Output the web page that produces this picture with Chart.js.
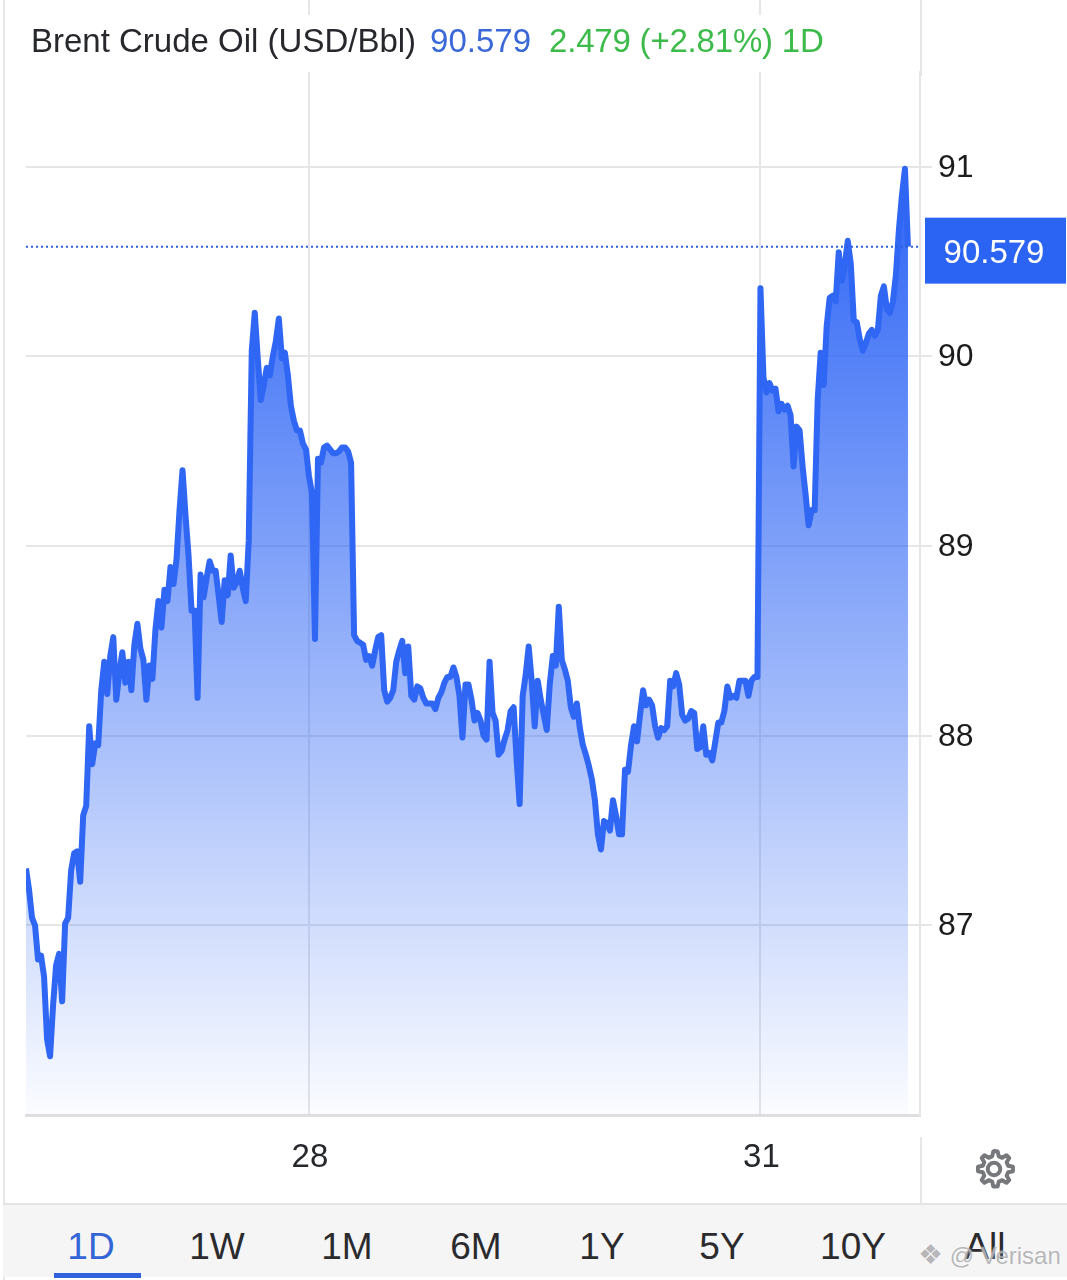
<!DOCTYPE html>
<html>
<head>
<meta charset="utf-8">
<title>Brent Crude Oil</title>
<script src="https://cdn.jsdelivr.net/npm/chart.js@4"></script>
<style>
html,body{margin:0;padding:0;background:#fff;}
body{width:1067px;height:1280px;position:relative;overflow:hidden;font-family:"Liberation Sans",Arial,sans-serif;}
#plot{position:absolute;left:0;top:0;}
.rule{position:absolute;background:#e6e6e9;}
#head{position:absolute;left:31px;top:22px;font-size:33px;line-height:38px;white-space:nowrap;color:#26282c;}
#head .last{color:#3a68d8;margin-left:14px;}
#head .chg{color:#3dbb4a;margin-left:18px;letter-spacing:-0.2px;}
#tabs{position:absolute;left:3px;right:0;top:1203px;height:74px;background:#f5f5f6;border-top:2px solid #e4e4e6;box-sizing:border-box;}
.tab{position:absolute;top:1226px;font-size:37px;line-height:42px;color:#2b2b2e;transform:translateX(-50%);}
.tab.on{color:#3465d6;}
#bar{position:absolute;left:54px;top:1273px;width:87px;height:5px;background:#2f62dc;}
#gear{position:absolute;left:972px;top:1147px;}
#mark{position:absolute;left:918px;top:1240px;font-size:24px;line-height:30px;color:rgba(160,160,162,.75);text-shadow:0 0 2px #fff;white-space:nowrap;}
</style>
</head>
<body>
<div class="rule" style="left:3px;top:0;width:2px;height:1280px"></div>
<div class="rule" style="left:308px;top:0;width:2px;height:15px"></div>
<div class="rule" style="left:759px;top:0;width:2px;height:15px"></div>
<div class="rule" style="left:920px;top:0;width:2px;height:76px"></div>
<div class="rule" style="left:920px;top:1137px;width:2px;height:66px"></div>
<canvas id="plot" width="1067" height="1280"></canvas>
<div id="head">Brent Crude Oil (USD/Bbl)<span class="last">90.579</span><span class="chg">2.479 (+2.81%) 1D</span></div>
<div id="tabs"></div>
<div id="tab-row"></div>
<div id="bar"></div>
<svg id="gear" width="44" height="44" viewBox="0 0 24 24" fill="none" stroke="#77787b" stroke-width="2.2" stroke-linejoin="round">
  <path d="M12 2.2l2 .3.6 2.6 1.9.8 2.3-1.4 1.5 1.5-1.4 2.3.8 1.9 2.6.6v2.4l-2.6.6-.8 1.9 1.4 2.3-1.5 1.5-2.3-1.4-1.9.8-.6 2.6h-2.4l-.6-2.6-1.9-.8-2.3 1.4-1.5-1.5 1.4-2.3-.8-1.9-2.6-.6v-2.4l2.6-.6.8-1.9-1.4-2.3 1.5-1.5 2.3 1.4 1.9-.8.6-2.6z"/>
  <circle cx="12" cy="12" r="3.4"/>
</svg>
<div id="mark"><span style="font-size:28px">&#10070;</span> @ Verisan</div>

<script>
// prices, one sample per slot of the session axis
const prices = [
  87.30,87.19,87.04,87.00,86.82,86.84,86.73,86.40,86.31,86.58,
  86.79,86.85,86.60,87.01,87.04,87.29,87.38,87.39,87.23,87.58,
  87.63,88.05,87.85,87.96,87.95,88.24,88.39,88.22,88.42,88.52,
  88.19,88.33,88.44,88.28,88.39,88.24,88.48,88.59,88.46,88.40,
  88.19,88.37,88.30,88.56,88.71,88.57,88.77,88.71,88.89,88.80,
  88.93,89.19,89.40,89.16,88.95,88.66,88.66,88.20,88.85,88.73,
  88.83,88.92,88.87,88.87,88.74,88.60,88.82,88.74,88.95,88.78,
  88.81,88.87,88.78,88.71,89.03,90.03,90.23,89.99,89.77,89.85,
  89.94,89.90,90.00,90.08,90.20,89.99,90.02,89.90,89.74,89.66,
  89.61,89.61,89.54,89.51,89.37,89.28,88.51,89.46,89.44,89.52,
  89.53,89.51,89.49,89.49,89.50,89.52,89.52,89.50,89.44,88.53,
  88.50,88.49,88.48,88.40,88.42,88.37,88.45,88.52,88.53,88.24,
  88.18,88.20,88.24,88.39,88.45,88.50,88.33,88.47,88.21,88.19,
  88.26,88.25,88.20,88.17,88.17,88.17,88.14,88.20,88.23,88.28,
  88.31,88.31,88.36,88.31,88.21,87.99,88.27,88.27,88.19,88.08,
  88.12,88.08,88.00,87.98,88.39,88.12,88.08,87.90,87.92,87.98,
  88.03,88.13,88.15,87.87,87.64,88.21,88.32,88.47,88.29,88.05,
  88.29,88.19,88.11,88.03,88.27,88.42,88.37,88.68,88.40,88.35,
  88.29,88.15,88.10,88.17,88.04,87.95,87.90,87.84,87.77,87.66,
  87.48,87.40,87.55,87.54,87.50,87.66,87.58,87.48,87.48,87.82,
  87.81,87.95,88.05,87.97,88.11,88.24,88.16,88.19,88.16,88.05,
  87.99,88.04,88.03,88.05,88.29,88.26,88.33,88.27,88.11,88.08,
  88.09,88.13,88.12,87.93,87.94,88.05,87.90,87.91,87.87,87.97,
  88.07,88.07,88.13,88.26,88.20,88.21,88.20,88.29,88.29,88.29,
  88.21,88.29,88.31,88.31,90.36,89.89,89.81,89.86,89.82,89.83,
  89.71,89.75,89.72,89.74,89.69,89.42,89.63,89.61,89.42,89.27,
  89.11,89.19,89.19,89.77,90.02,89.85,90.16,90.31,90.32,90.29,
  90.55,90.40,90.48,90.61,90.49,90.19,90.18,90.09,90.03,90.07,
  90.12,90.14,90.11,90.14,90.32,90.37,90.25,90.23,90.29,90.43,
  90.67,90.85,90.99,90.579
];
const lastPrice = 90.579;
const slotCount = 297;
const dayTicks = [94, 244];
const dayLabels = ['28', '31'];
const priceTicks = [87, 88, 89, 90, 91];
const rangeNames = ['1D', '1W', '1M', '6M', '1Y', '5Y', '10Y', 'All'];

const BLUE = '#2f66f3';
const GRID = '#e6e6e9';
const tabCentres = [91, 217, 347, 476, 602, 722, 853, 985];

// bottom range tabs
rangeNames.forEach(function(name, i){
  var d = document.createElement('div');
  d.className = 'tab' + (i == 0 ? ' on' : '');
  d.style.left = tabCentres[i] + 'px';
  d.textContent = name;
  document.getElementById('tab-row').appendChild(d);
});

// blue box with the last price, sits on the right axis
const priceTag = {
  id: 'priceTag',
  afterDraw(chart){
    const y = chart.scales.y.getPixelForValue(lastPrice);
    const ctx = chart.ctx;
    ctx.save();
    ctx.fillStyle = '#2b63f2';
    ctx.fillRect(925, y - 29, 141, 66);
    ctx.fillStyle = '#fff';
    ctx.font = '33px "Liberation Sans", Arial, sans-serif';
    ctx.textAlign = 'center';
    ctx.textBaseline = 'middle';
    ctx.fillText(lastPrice.toFixed(3), 994, y + 7);
    ctx.restore();
  }
};

function areaFill(context){
  const area = context.chart.chartArea;
  if(!area) return 'transparent';
  const g = context.chart.ctx.createLinearGradient(0, area.top + 95, 0, area.bottom);
  g.addColorStop(0, 'rgba(43,99,245,1)');
  g.addColorStop(1, 'rgba(43,99,245,0.02)');
  return g;
}

new Chart(document.getElementById('plot'), {
  type: 'line',
  data: {
    datasets: [
      {
        data: prices.map(function(p, i){ return {x: i, y: p}; }),
        borderColor: BLUE, borderWidth: 6, borderJoinStyle: 'round',
        backgroundColor: areaFill, fill: 'start',
        pointRadius: 0, tension: 0, order: 2
      },
      {
        data: [{x: 0, y: lastPrice}, {x: slotCount, y: lastPrice}],
        borderColor: '#2b5fd9', borderWidth: 2, borderDash: [2, 3],
        pointRadius: 0, fill: false, order: 1
      }
    ]
  },
  plugins: [priceTag],
  options: {
    responsive: false,
    animation: false,
    devicePixelRatio: 1,
    layout: {padding: {left: 26, top: 72, right: 0, bottom: 0}},
    plugins: {legend: {display: false}, tooltip: {enabled: false}, title: {display: false}},
    scales: {
      x: {
        type: 'linear', min: 0, max: slotCount,
        afterBuildTicks(scale){ scale.ticks = dayTicks.map(function(v){ return {value: v}; }); },
        afterFit(scale){ scale.height = 165; },
        grid: {color: GRID, lineWidth: 2, drawTicks: false},
        border: {color: '#dfdfe2', width: 3},
        ticks: {
          autoSkip: false, maxRotation: 0, padding: 23, labelOffset: 1, color: '#26282c',
          font: {family: '"Liberation Sans", Arial, sans-serif', size: 33},
          callback(v){ return dayLabels[dayTicks.indexOf(v)]; }
        }
      },
      y: {
        position: 'right', min: 86, max: 91.5,
        afterBuildTicks(scale){ scale.ticks = priceTicks.map(function(v){ return {value: v}; }); },
        afterFit(scale){ scale.width = 147; },
        grid: {color: GRID, lineWidth: 2, tickLength: 12},
        border: {color: GRID, width: 2},
        ticks: {
          padding: 6, labelOffset: 1, color: '#1c1c1e',
          font: {family: '"Liberation Sans", Arial, sans-serif', size: 32},
          callback(v){ return String(v); }
        }
      }
    }
  }
});
</script>
</body>
</html>
